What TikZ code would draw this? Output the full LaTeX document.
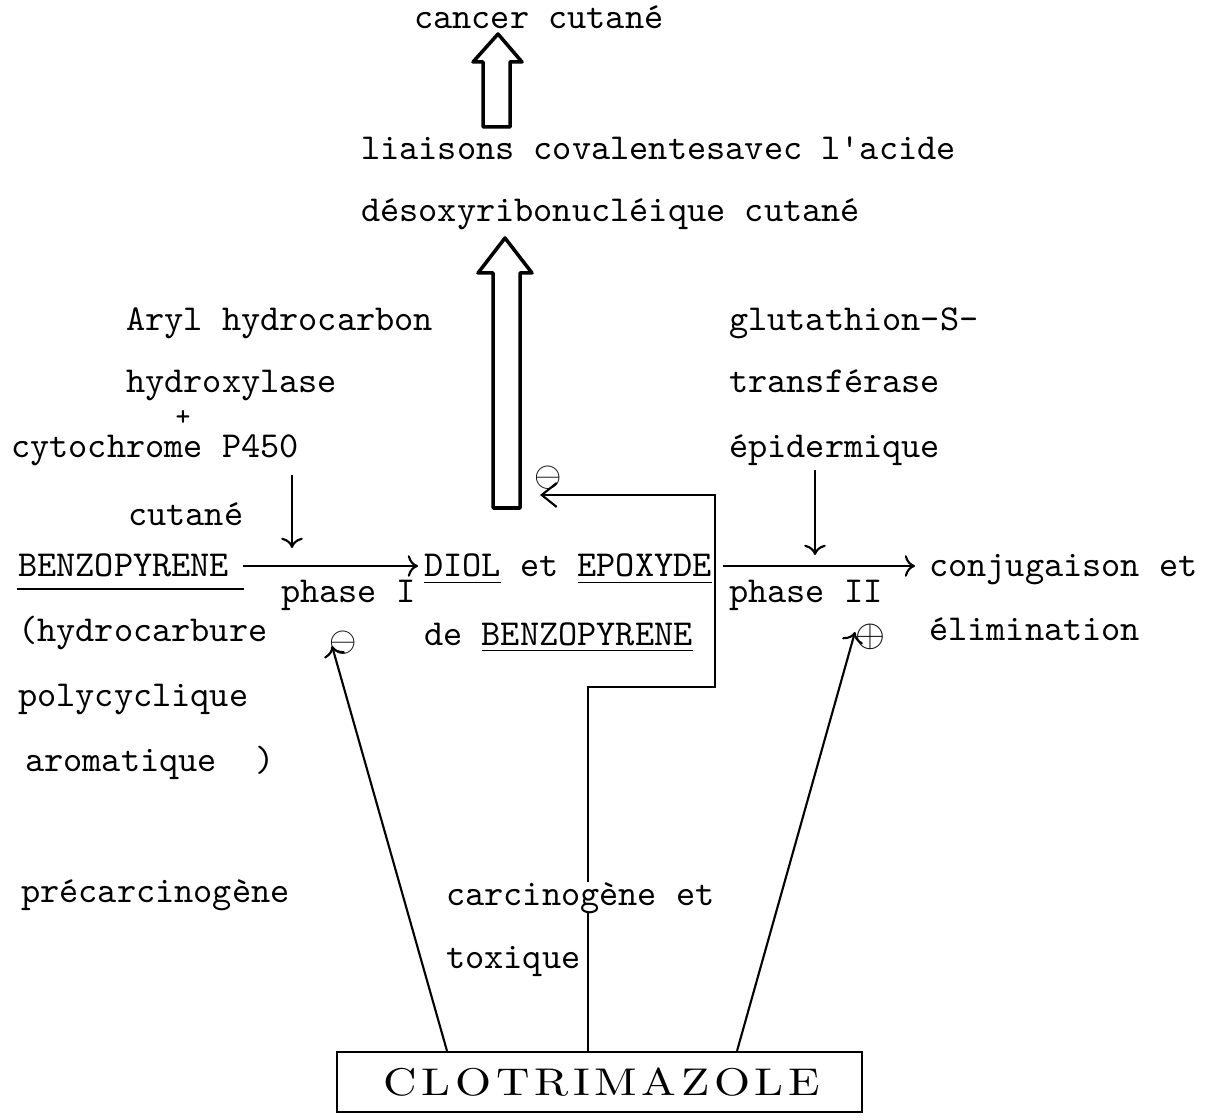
\documentclass[tikz,border=0pt]{standalone}
\usepackage{fontspec}
\usepackage{graphicx}
\usepackage{tikz}
\usetikzlibrary{positioning,arrows.meta}
\newfontfamily\clofam[LetterSpace=10]{lmroman10-regular.otf}

\begin{document}
\begin{tikzpicture}[x=0.1mm,y=-0.1mm,node distance=6.5mm,on grid,line width=0.6pt,
  lbl/.style={font=\ttfamily\fontsize{10.4}{12}\selectfont,inner sep=0pt,anchor=base west},
  sign/.style={inner sep=0pt,font=\fontsize{10}{11}\selectfont},
  hollow/.style={line width=1pt,line join=round}]
\useasboundingbox (0,0) rectangle (1218,1120);

  % top of the chain
  \node[lbl] (cancer) at (413,29) {cancer cutané};
  \node[lbl] (liais)  at (360,160) {liaisons covalentesavec l'acide};
  \node[lbl] (desox)  [below=6.2mm of liais.base west,anchor=base west] {désoxyribonucléique cutané};
  \draw[hollow] (483,127) -- (483,62) -- (473,62) -- (498,34) -- (522,62) -- (510,62) -- (510,127) -- cycle;
  \draw[hollow] (493,508) -- (493,273) -- (478,273) -- (505,238) -- (532,273) -- (520,273) -- (520,508) -- cycle;

  % phase I side
  \node[lbl] (aryl)    at (125,331) {Aryl hydrocarbon};
  \node[lbl] (hydrox)  [below=6.2mm of aryl.base west,anchor=base west] {hydroxylase};
  \node[sign,font=\ttfamily\fontsize{8}{9}\selectfont] (plus) at (183,418) {+};
  \node[lbl] (cyto)    at (10,458) {cytochrome P450};
  \node[lbl] (cutA)    at (127,526) {cutané};
  \node[lbl] (bz)      at (17,577) {BENZOPYRENE};
  \node[lbl] (ph1)     at (280,603) {phase I};
  \node[lbl] (hydro)   at (17,641) {(hydrocarbure};
  \node[lbl] (poly)    [below=6.5mm of hydro.base west,anchor=base west] {polycyclique};
  \node[lbl] (arom)    [below=6.5mm of poly.base west,xshift=0.7mm,anchor=base west] {aromatique\ \ )};
  \node[lbl] (precarc) at (20,902) {précarcinogène};

  % metabolites
  \node[lbl] (diol) at (423,577) {\underline{DIOL} et \underline{EPOXYDE}};
  \node[lbl] (debz) at (423,645) {de \underline{BENZOPYRENE}};

  % phase II side
  \node[lbl] (glut)  at (728,331) {glutathion-S-};
  \node[lbl] (trans) [below=6.2mm of glut.base west,anchor=base west] {transférase};
  \node[lbl] (epid)  [below=6.5mm of trans.base west,anchor=base west] {épidermique};
  \node[lbl] (ph2)   at (728,603) {phase II};
  \node[lbl] (conj)  at (928,577) {conjugaison et};
  \node[lbl] (elim)  at (928,640) {élimination};

  \node[draw,minimum width=52.5mm,minimum height=6mm,inner sep=0pt,font=\clofam\fontsize{11}{12}\selectfont] (clo) at (599.5,1082) {\scalebox{1.2}[1]{\hspace*{0.4mm}CLOTRIMAZOLE}};

  \node[sign] (mA) at (548,478) {$\ominus$};
  \node[sign] (mB) at (343,643) {$\ominus$};
  \node[sign,font=\fontsize{11}{12}\selectfont] (pC) at (870,637) {$\oplus$};

  \coordinate (p450)   at (292,475);
  \coordinate (ph1top) at (292,548);
  \coordinate (gst)    at (815,470);
  \coordinate (ph2top) at (815,555);
  \coordinate (inh)    at (540,495);
  \coordinate (inhI)   at (332,646);
  \coordinate (actII)  at (855,632);

  \draw ([yshift=-1.2mm]bz.base west) -- ([xshift=1.4mm,yshift=-1.2mm]bz.base east);
  \draw[->] ([xshift=1.3mm,yshift=1.1mm]bz.base east) -- ([xshift=-0.5mm,yshift=1.1mm]diol.base west);
  \draw[->] ([xshift=1mm,yshift=1.1mm]diol.base east) -- ([xshift=-1.3mm,yshift=1.1mm]conj.base west);
  \draw[->] (p450) -- (ph1top);
  \draw[->] (gst) -- (ph2top);

  \draw[-{Straight Barb[length=1.5mm,width=2.4mm]}] ([xshift=-1.15mm]clo.north) |- (715,687) |- (inh);
  \draw[->] ([xshift=-15.25mm]clo.north) -- (inhI);
  \draw[->] ([xshift=13.75mm]clo.north) -- (actII);

  \node[lbl,fill=white] (carc) at (445,905) {carcinogène et};
  \node[lbl] (tox) [below=6.3mm of carc.base west,anchor=base west] {toxique};
\end{tikzpicture}
\end{document}
